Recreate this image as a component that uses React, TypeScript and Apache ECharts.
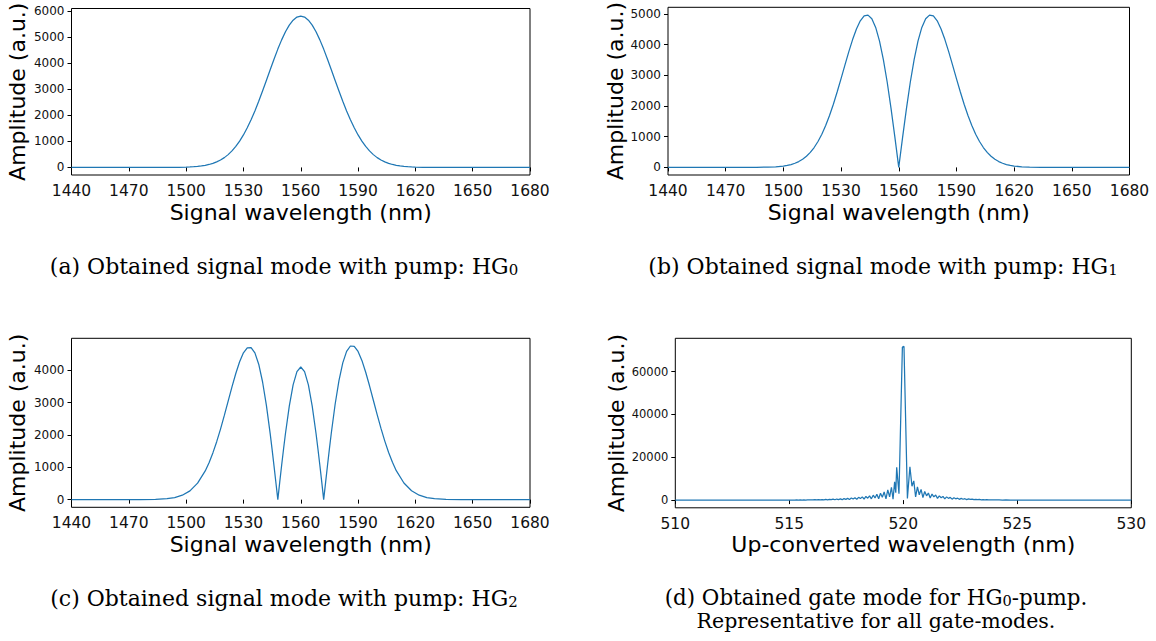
import React, { useEffect, useRef } from "react";
import * as echarts from "echarts";

// ---------- Panel (a): HG0 pump ----------
const xA = [1440, 1470, 1480, 1490, 1496, 1500, 1502, 1504, 1506, 1508, 1510, 1512, 1514, 1516, 1518, 1520, 1522, 1524, 1526, 1528, 1530, 1532, 1534, 1536, 1538, 1540, 1542, 1544, 1546, 1548, 1550, 1552, 1554, 1556, 1558, 1560, 1562, 1564, 1566, 1568, 1570, 1572, 1574, 1576, 1578, 1580, 1582, 1584, 1586, 1588, 1590, 1592, 1594, 1596, 1598, 1600, 1602, 1604, 1606, 1608, 1610, 1612, 1614, 1616, 1618, 1620, 1624, 1630, 1640, 1680];
const yA = [0, 0, 0, 1, 5, 12, 18, 27, 40, 57, 81, 113, 156, 212, 284, 376, 491, 633, 804, 1007, 1245, 1518, 1826, 2166, 2535, 2927, 3333, 3744, 4148, 4534, 4888, 5199, 5454, 5643, 5760, 5800, 5760, 5643, 5454, 5199, 4888, 4534, 4148, 3744, 3333, 2927, 2535, 2166, 1826, 1518, 1245, 1007, 804, 633, 491, 376, 284, 212, 156, 113, 81, 57, 40, 27, 18, 12, 5, 1, 0, 0];

// ---------- Panel (b): HG1 pump ----------
const xB = [1440, 1470, 1480, 1486, 1492, 1496, 1500, 1502, 1504, 1506, 1508, 1510, 1512, 1514, 1516, 1518, 1520, 1522, 1524, 1526, 1528, 1530, 1532, 1534, 1536, 1538, 1540, 1542, 1544, 1546, 1548, 1550, 1552, 1554, 1556, 1558, 1560, 1562, 1564, 1566, 1568, 1570, 1572, 1574, 1576, 1578, 1580, 1582, 1584, 1586, 1588, 1590, 1592, 1594, 1596, 1598, 1600, 1602, 1604, 1606, 1608, 1610, 1612, 1614, 1616, 1618, 1620, 1624, 1628, 1634, 1640, 1650, 1680];
const yB = [0, 0, 0, 2, 8, 19, 43, 64, 93, 134, 190, 264, 362, 488, 648, 845, 1083, 1365, 1692, 2060, 2464, 2892, 3332, 3765, 4166, 4513, 4778, 4936, 4964, 4843, 4562, 4117, 3516, 2775, 1918, 980, 0, 980, 1918, 2775, 3516, 4117, 4562, 4843, 4964, 4936, 4778, 4513, 4166, 3765, 3332, 2892, 2464, 2060, 1692, 1365, 1083, 845, 648, 488, 362, 264, 190, 134, 93, 64, 43, 19, 8, 2, 0, 0, 0];

// ---------- Panel (c): HG2 pump ----------
const xC = [1440, 1470, 1476, 1484, 1490, 1494, 1498, 1502, 1506, 1510, 1512, 1514, 1516, 1518, 1520, 1522, 1524, 1526, 1528, 1530, 1532, 1534, 1536, 1538, 1540, 1542, 1544, 1545, 1546, 1547, 1548, 1549, 1550, 1551, 1552, 1554, 1556, 1558, 1560, 1562, 1564, 1566, 1568, 1569, 1570, 1571, 1572, 1573, 1574, 1575, 1576, 1578, 1580, 1582, 1584, 1586, 1588, 1590, 1592, 1594, 1596, 1598, 1600, 1602, 1604, 1606, 1608, 1610, 1614, 1618, 1622, 1626, 1630, 1636, 1644, 1680];
const yC = [0, 0, 0, 7, 28, 64, 137, 272, 509, 888, 1143, 1444, 1791, 2181, 2603, 3043, 3484, 3900, 4262, 4537, 4693, 4702, 4538, 4186, 3644, 2920, 2040, 1554, 1045, 521, 0, 541, 1062, 1566, 2045, 2893, 3546, 3959, 4100, 3959, 3546, 2893, 2045, 1566, 1062, 541, 0, 526, 1056, 1570, 2060, 2949, 3680, 4227, 4583, 4749, 4739, 4582, 4304, 3938, 3519, 3073, 2629, 2202, 1809, 1458, 1154, 896, 514, 275, 138, 65, 28, 7, 0, 0];

// ---------- Panel (d): gate mode ----------
const xD = [510, 511, 512.8, 513.6, 514.2, 514.6, 514.84, 515.0, 515.16, 515.24, 515.32, 515.40, 515.48, 515.56, 515.64, 515.72, 515.80, 515.88, 515.96, 516.04, 516.12, 516.20, 516.28, 516.36, 516.44, 516.52, 516.60, 516.68, 516.76, 516.84, 516.92, 517.00, 517.08, 517.16, 517.24, 517.32, 517.40, 517.48, 517.56, 517.64, 517.72, 517.80, 517.88, 517.96, 518.04, 518.12, 518.20, 518.28, 518.36, 518.44, 518.52, 518.60, 518.68, 518.76, 518.84, 518.92, 519.00, 519.08, 519.16, 519.24, 519.32, 519.40, 519.48, 519.55, 519.62, 519.67, 519.71, 519.81, 519.96, 520.03, 520.18, 520.29, 520.38, 520.46, 520.54, 520.62, 520.70, 520.78, 520.86, 520.94, 521.02, 521.10, 521.18, 521.26, 521.34, 521.42, 521.50, 521.58, 521.66, 521.74, 521.82, 521.90, 521.98, 522.06, 522.14, 522.22, 522.30, 522.38, 522.46, 522.54, 522.62, 522.70, 522.78, 522.86, 522.94, 523.02, 523.10, 523.18, 523.26, 523.34, 523.42, 523.50, 523.58, 523.66, 523.74, 523.82, 523.90, 523.98, 524.10, 524.20, 524.35, 524.50, 524.70, 525.00, 525.40, 526, 527, 528, 530];
const yD = [0, 0, 5, 5, 15, 10, 30, 15, 40, 25, 55, 20, 70, 40, 90, 30, 110, 60, 140, 50, 170, 90, 200, 80, 250, 120, 300, 100, 350, 180, 420, 150, 500, 250, 600, 200, 700, 350, 800, 300, 950, 500, 1100, 400, 1300, 700, 1500, 500, 1700, 900, 2000, 600, 2300, 1000, 2700, 600, 3200, 1300, 3800, 600, 4800, 1500, 6000, 400, 8500, 3500, 15300, 3000, 71500, 71800, 800, 15600, 6500, 9000, 1500, 6200, 2500, 5000, 1200, 4000, 2000, 3300, 1000, 2800, 1500, 2400, 800, 2000, 1100, 1700, 600, 1500, 800, 1250, 450, 1100, 600, 900, 350, 780, 400, 650, 250, 550, 300, 450, 180, 380, 200, 300, 120, 250, 130, 200, 80, 160, 90, 130, 50, 100, 40, 70, 30, 40, 15, 10, 5, 0, 0];

// ---------- Axes ticks / labels ----------
const xTicksSignal = { min: 1440, max: 1680, interval: 30 };
const xTicksGate = { min: 510, max: 530, interval: 5 };
const yTicksA = [0, 1000, 2000, 3000, 4000, 5000, 6000];
const yTicksB = [0, 1000, 2000, 3000, 4000, 5000];
const yTicksC = [0, 1000, 2000, 3000, 4000];
const yTicksD = [0, 20000, 40000, 60000];
const yRangeA = [-290, 6090];
const yRangeB = [-248, 5218];
const yRangeC = [-237, 4987];
const yRangeD = [-3600, 75600];

const xNameSignal = "Signal wavelength (nm)";
const xNameGate = "Up-converted wavelength (nm)";
const yName = "Amplitude (a.u.)";

const captionA = ["(a) Obtained signal mode with pump: HG", "0", ""];
const captionB = ["(b) Obtained signal mode with pump: HG", "1", ""];
const captionC = ["(c) Obtained signal mode with pump: HG", "2", ""];
const captionD1 = ["(d) Obtained gate mode for HG", "0", "-pump."];
const captionD2 = "Representative for all gate-modes.";

const LINE = "#1f77b4";
const SANS = "DejaVu Sans";
const SERIF = "DejaVu Serif";

const grids = [
  { left: 71.5, top: 8.5, width: 458.5, height: 166.5 },
  { left: 668, top: 6.7, width: 461.5, height: 168.3 },
  { left: 71.5, top: 338.3, width: 458.5, height: 169 },
  { left: 675.3, top: 338.3, width: 456, height: 169.5 },
];

function pairs(xs: number[], ys: number[]) {
  return xs.map((x, i) => [x, ys[i]]);
}

function caption(parts: string[], x: number, y: number, fs: number) {
  return {
    type: "text",
    x,
    y,
    style: {
      text: parts[2]
        ? `{n|${parts[0]}}{s|${parts[1]}}{n|${parts[2]}}`
        : `{n|${parts[0]}}{s|${parts[1]}}`,
      textAlign: "center",
      textVerticalAlign: "middle",
      rich: {
        n: { fontFamily: SERIF, fontSize: fs, lineHeight: 28, verticalAlign: "bottom", fill: "#000" },
        s: { fontFamily: SERIF, fontSize: fs * 0.68, lineHeight: 15, verticalAlign: "bottom", fill: "#000" },
      },
    },
  };
}

const plain = (v: number) => String(v);

export default function App() {
  const ref = useRef<HTMLDivElement>(null);
  useEffect(() => {
    if (!ref.current) return;
    const chart = echarts.init(ref.current, null, { renderer: "svg" });

    const xAxisBase = (idx: number, name: string, t: any) => ({
      type: "value",
      gridIndex: idx,
      min: t.min,
      max: t.max,
      interval: t.interval,
      name,
      nameLocation: "middle",
      nameGap: 26,
      nameTextStyle: { fontFamily: SANS, fontSize: 22, color: "#000", verticalAlign: "top" },
      axisLine: { show: false },
      axisTick: { show: true, length: 4, inside: false, lineStyle: { color: "#000", width: 1 } },
      axisLabel: { fontFamily: SANS, fontSize: 15.5, color: "#111", margin: 8, formatter: plain, showMinLabel: true, showMaxLabel: true },
      splitLine: { show: false },
    });
    const yAxisBase = (idx: number, range: number[], ticks: number[], gap: number, fs: number) => ({
      type: "value",
      gridIndex: idx,
      min: range[0],
      max: range[1],
      name: yName,
      nameLocation: "middle",
      nameGap: gap,
      nameTextStyle: { fontFamily: SANS, fontSize: 22, color: "#000" },
      axisLine: { show: false },
      axisTick: { show: true, length: 4, inside: false, customValues: ticks, lineStyle: { color: "#000", width: 1 } },
      axisLabel: { fontFamily: SANS, fontSize: fs, color: "#111", margin: 7, customValues: ticks, formatter: plain },
      splitLine: { show: false },
    });

    const seriesOf = (idx: number, data: number[][]) => ({
      type: "line",
      xAxisIndex: idx,
      yAxisIndex: idx,
      data,
      showSymbol: false,
      symbol: "none",
      clip: true,
      lineStyle: { color: LINE, width: 1.25 },
      itemStyle: { color: LINE },
    });

    chart.setOption({
      animation: false,
      backgroundColor: "#fff",
      grid: grids.map((g) => ({ ...g, show: true, borderColor: "#000", borderWidth: 1, backgroundColor: "transparent" })),
      xAxis: [
        xAxisBase(0, xNameSignal, xTicksSignal),
        xAxisBase(1, xNameSignal, xTicksSignal),
        xAxisBase(2, xNameSignal, xTicksSignal),
        xAxisBase(3, xNameGate, xTicksGate),
      ],
      yAxis: [
        yAxisBase(0, yRangeA, yTicksA, 43, 12),
        yAxisBase(1, yRangeB, yTicksB, 42, 12),
        yAxisBase(2, yRangeC, yTicksC, 43, 12),
        yAxisBase(3, yRangeD, yTicksD, 48, 11.5),
      ],
      series: [
        seriesOf(0, pairs(xA, yA)),
        seriesOf(1, pairs(xB, yB)),
        seriesOf(2, pairs(xC, yC)),
        seriesOf(3, pairs(xD, yD)),
      ],
      graphic: [
        caption(captionA, 284, 263, 22),
        caption(captionB, 883, 263, 22),
        caption(captionC, 284, 595, 22),
        caption(captionD1, 876, 594, 21.4),
        {
          type: "text",
          x: 876,
          y: 621,
          style: {
            text: captionD2,
            fontFamily: SERIF,
            fontSize: 20.5,
            fill: "#000",
            textAlign: "center",
            textVerticalAlign: "middle",
          },
        },
      ],
    });
    return () => chart.dispose();
  }, []);

  return (
    <div
      ref={ref}
      style={{ position: "absolute", left: 0, top: 0, width: 1156, height: 641, background: "#fff" }}
    />
  );
}
